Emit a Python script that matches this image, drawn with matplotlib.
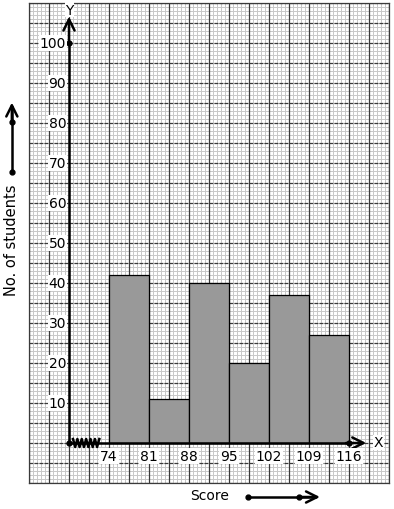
import numpy as np
import matplotlib.pyplot as plt

# class intervals and frequencies
edges = [74, 81, 88, 95, 102, 109, 116]
counts = [42, 11, 40, 20, 37, 27]
y_ticks = [10, 20, 30, 40, 50, 60, 70, 80, 90, 100]

x0 = 67          # where the Y axis sits (with a kink)
xmin, xmax = 60, 123
ymin, ymax = -10, 110

fig = plt.figure(figsize=(3.94, 5.10), dpi=100)
ax = fig.add_axes([29 / 394, 26 / 510, 360 / 394, 480 / 510])
ax.set_xlim(xmin, xmax)
ax.set_ylim(ymin, ymax)

# graph paper
for xv in np.arange(xmin, xmax + 0.01, 0.7):
    ax.axvline(xv, color='#c8c8c8', lw=0.7, zorder=0)
for yv in np.arange(ymin, ymax + 0.01, 1):
    ax.axhline(yv, color='#c8c8c8', lw=0.7, zorder=0)
for xv in np.arange(xmin, xmax + 0.01, 3.5):
    ax.axvline(xv, color='#3a3a3a', lw=0.9, zorder=0.5)
for yv in np.arange(ymin, ymax + 0.01, 5):
    ax.axhline(yv, color='#3a3a3a', lw=0.9, ls=(0, (3, 1)), zorder=0.5)
for s in ax.spines.values():
    s.set_color('#3a3a3a')
    s.set_linewidth(0.9)
ax.set_xticks([])
ax.set_yticks([])

# bars
widths = np.diff(edges)
ax.bar(edges[:-1], counts, width=widths, align='edge', color='#999999',
       edgecolor='black', linewidth=0.9, zorder=2)

arrow = dict(arrowstyle='->', lw=1.8, color='black', mutation_scale=20)

# axes with arrows
ax.plot([x0, edges[-1]], [0, 0], color='black', lw=1.8, zorder=3)
ax.annotate('', xy=(119.5, 0), xytext=(edges[-1] - 1, 0),
            arrowprops=arrow, zorder=3)
ax.plot([x0, x0], [0, 100], color='black', lw=1.8, zorder=3)
ax.annotate('', xy=(x0, 107.3), xytext=(x0, 99), arrowprops=arrow, zorder=3)
ax.plot([x0, x0, edges[-1]], [0, 100, 0], 'o', color='black', ms=3.5,
        zorder=4, clip_on=False)

# kink on the x axis
zx = np.linspace(x0 + 0.7, x0 + 5.3, 13)
zy = np.where(np.arange(13) % 2 == 0, 1.0, -1.0)
ax.plot(zx, zy, color='black', lw=1.8, zorder=4)

ax.text(x0 + 0.1, 108.3, 'Y', ha='center', va='center', fontsize=10,
        bbox=dict(fc='white', ec='none', pad=0.5), zorder=5)
ax.text(121.2, 0.2, 'X', ha='center', va='center', fontsize=10,
        bbox=dict(fc='white', ec='none', pad=0.5), zorder=5)

for v in y_ticks:
    ax.text(x0 - 0.5, v, str(v), ha='right', va='center', fontsize=10,
            bbox=dict(fc='white', ec='none', pad=0.6), zorder=5)
for e in edges:
    ax.text(e, -3.3, str(e), ha='center', va='center', fontsize=10,
            bbox=dict(fc='white', ec='none', pad=0.6), zorder=5)

# axis titles with decorative arrows
fig.text(12 / 394, 1 - 240 / 510, 'No. of students', rotation=90,
         ha='center', va='center', fontsize=10.5)
fig.text(210 / 394, 1 - 496 / 510, 'Score', ha='center', va='center',
         fontsize=10)
ax.plot([57, 57], [67.75, 84], color='black', lw=1.8, clip_on=False)
ax.annotate('', xy=(57, 85.8), xytext=(57, 80), annotation_clip=False,
            arrowprops=arrow)
ax.plot([57, 57], [67.75, 80.25], 'o', color='black', ms=3.5, clip_on=False)
ax.plot([98.3, 110], [-13.5, -13.5], color='black', lw=1.8, clip_on=False)
ax.annotate('', xy=(111.4, -13.5), xytext=(107, -13.5), annotation_clip=False,
            arrowprops=arrow)
ax.plot([98.3, 107.25], [-13.5, -13.5], 'o', color='black', ms=3.5,
        clip_on=False)

fig.savefig('out.png', dpi=100)
